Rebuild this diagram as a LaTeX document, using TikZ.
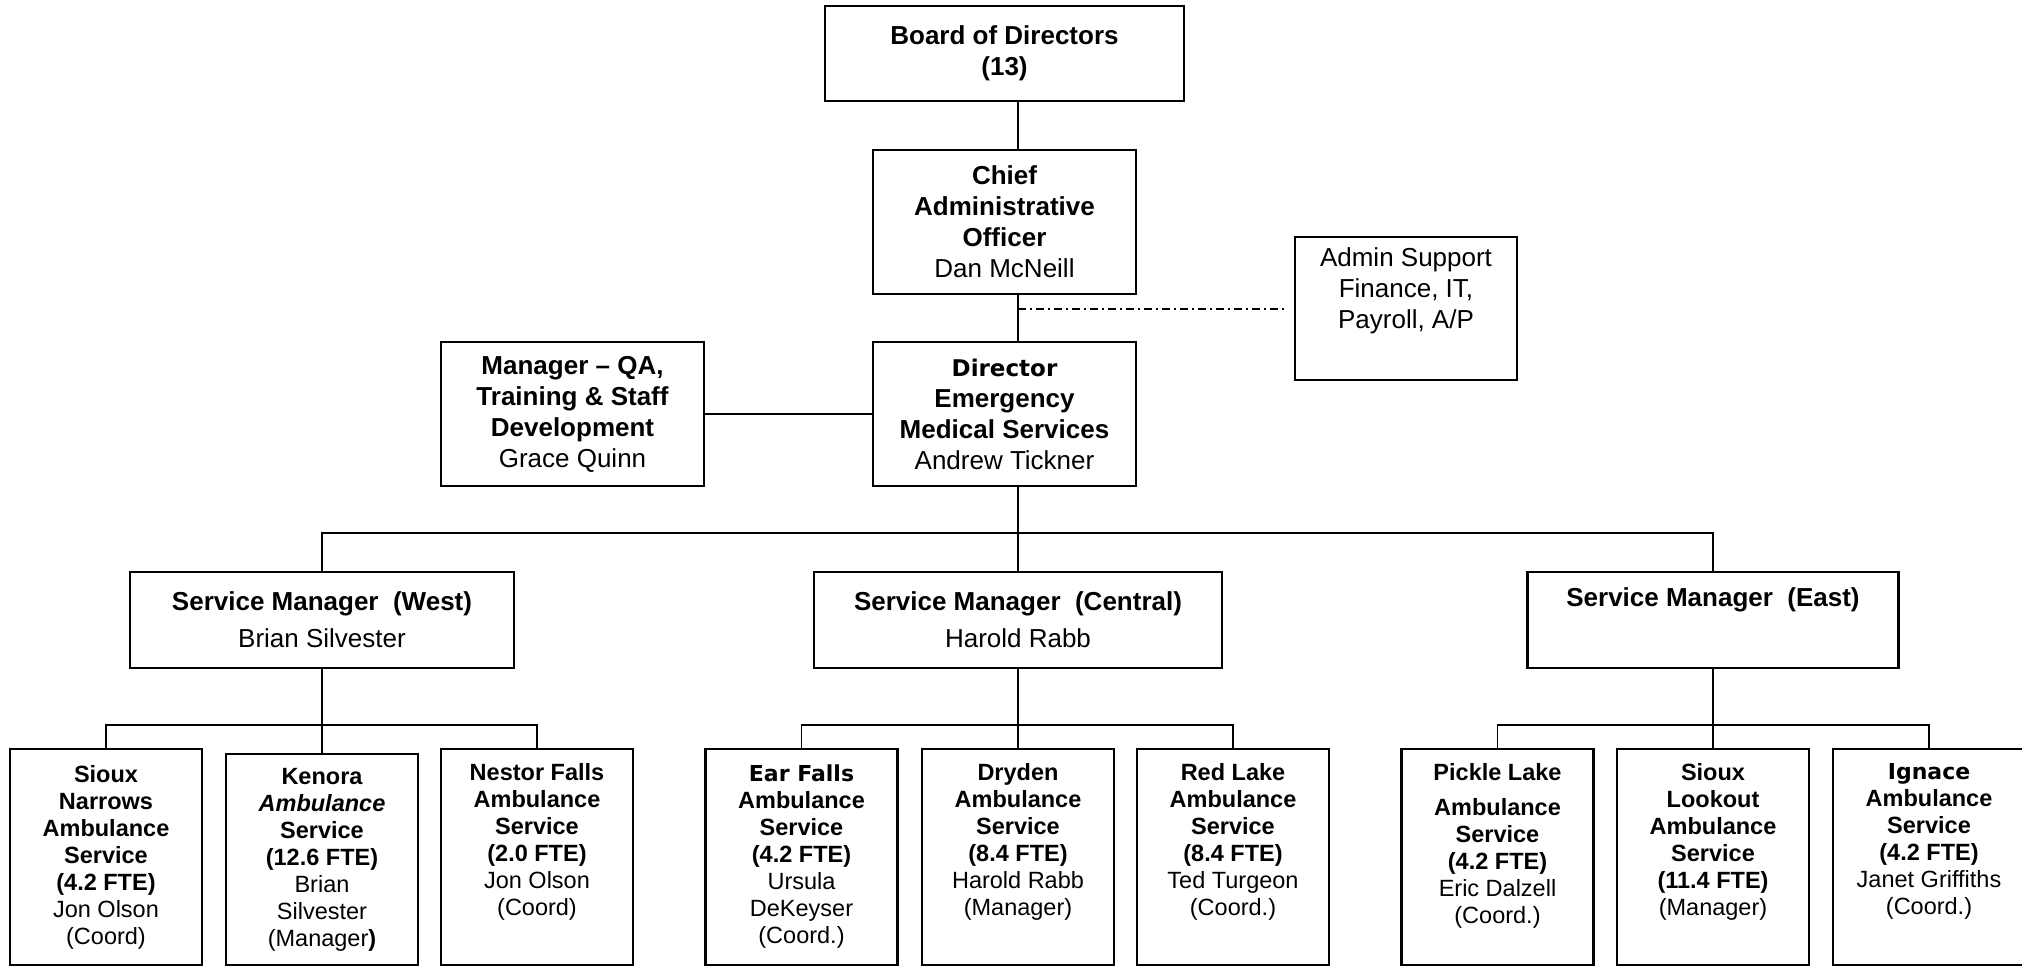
\documentclass[tikz,border=0pt]{standalone}
\usepackage{fontspec}
\setmainfont{Liberation Sans}
\newfontfamily\verdana{DejaVu Sans}

\begin{document}
\begin{tikzpicture}[x=1pt, y=-1pt,
  orgbox/.style={draw, line width=2.4pt, align=center, inner sep=0pt,
    font=\fontsize{26}{31}\selectfont\bfseries},
  unitbox/.style={draw, line width=2.4pt, align=center, inner sep=0pt,
    minimum width=192pt, minimum height=216pt,
    font=\fontsize{23.5}{27}\selectfont\bfseries},
  link/.style={line width=1.6pt},
  dotlink/.style={line width=2pt, dash pattern=on 8pt off 4pt on 2pt off 4pt}]
  \useasboundingbox (0,0) rectangle (2022,966);

  % Board / CAO / Director
  \node[orgbox, minimum width=359pt, minimum height=95pt] (board) at (1004.5,53.5)
    {Board of Directors\\(13)};
  \node[orgbox, minimum width=263pt, minimum height=144pt] (cao) at (1004.5,222)
    {Chief\\Administrative\\Officer\\\textmd{Dan McNeill}};
  \node[orgbox, font=\fontsize{26}{31}\selectfont, minimum width=222pt, minimum height=143pt]
    (admin) at (1406,308.5) {Admin Support\\Finance, IT,\\Payroll, A/P\\\strut};
  \node[orgbox, minimum width=263pt, minimum height=144pt] (qa) at (572.5,414)
    {Manager – QA,\\Training \& Staff\\Development\\\textmd{Grace Quinn}};
  \node[orgbox, minimum width=263pt, minimum height=144pt] (director) at (1004.5,414)
    {{\verdana\fontsize{23}{30}\selectfont Director}\\Emergency\\Medical Services\\\textmd{Andrew Tickner}};

  % Service managers
  \node[orgbox, minimum width=384pt, minimum height=96pt] (west) at (322,620)
    {Service Manager\ \ (West)\\[6pt]\textmd{Brian Silvester}};
  \node[orgbox, minimum width=408pt, minimum height=96pt] (central) at (1018,620)
    {Service Manager\ \ (Central)\\[6pt]\textmd{Harold Rabb}};
  \node[orgbox, minimum width=371pt, minimum height=96pt] (east) at (1713,620)
    {Service Manager\ \ (East)\\[6pt]\strut};

  % West units
  \node[unitbox] (sioux) at (106,857)
    {Sioux\\Narrows\\Ambulance\\Service\\(4.2 FTE)\\\textmd{Jon Olson}\\\textmd{(Coord)}};
  \node[unitbox, minimum height=211pt] (kenora) at (322,859.5)
    {Kenora\\\textit{Ambulance}\\Service\\(12.6 FTE)\\\textmd{Brian}\\\textmd{Silvester}\\\textmd{(Manager}\textbf{)}};
  \node[unitbox] (nestor) at (537,857)
    {Nestor Falls\\Ambulance\\Service\\(2.0 FTE)\\\textmd{Jon Olson}\\\textmd{(Coord)}\\\strut};
  % Central units
  \node[unitbox] (earfalls) at (801.5,857)
    {{\verdana\fontsize{22}{27}\selectfont Ear Falls}\\Ambulance\\Service\\(4.2 FTE)\\\textmd{Ursula}\\\textmd{DeKeyser}\\\textmd{(Coord.)}};
  \node[unitbox] (dryden) at (1018,857)
    {Dryden\\Ambulance\\Service\\(8.4 FTE)\\\textmd{Harold Rabb}\\\textmd{(Manager)}\\\strut};
  \node[unitbox] (redlake) at (1233,857)
    {Red Lake\\Ambulance\\Service\\(8.4 FTE)\\\textmd{Ted Turgeon}\\\textmd{(Coord.)}\\\strut};
  % East units
  \node[unitbox] (pickle) at (1497.5,857)
    {Pickle Lake\\[8pt]Ambulance\\Service\\(4.2 FTE)\\\textmd{Eric Dalzell}\\\textmd{(Coord.)}\\[-8pt]\strut};
  \node[unitbox] (lookout) at (1713,857)
    {Sioux\\Lookout\\Ambulance\\Service\\(11.4 FTE)\\\textmd{(Manager)}\\\strut};
  \node[unitbox] (ignace) at (1929,857)
    {{\verdana\fontsize{22}{27}\selectfont Ignace}\\Ambulance\\Service\\(4.2 FTE)\\\textmd{Janet Griffiths}\\\textmd{(Coord.)}\\\strut};

  % Connectors
  \coordinate (spine) at (1018,0);
  \draw[link] (board.south -| spine) -- (cao.north -| spine);
  \draw[link] (cao.south -| spine) -- (director.north -| spine);
  \draw[dotlink] (spine |- admin.west) -- ([xshift=-8pt]admin.west);
  \draw[link] (qa.east) -- (director.west);
  \draw[link] (director.south -| spine) -- (central.north);
  \draw[link] (west.north) -- ++(0,-38) -| (east.north);

  \draw[link] (west.south) -- (kenora.north);
  \draw[link] (sioux.north) -- ++(0,-23) -| (nestor.north);
  \draw[link] (central.south) -- (dryden.north);
  \draw[link] (earfalls.north) -- ++(0,-23) -| (redlake.north);
  \draw[link] (east.south) -- (lookout.north);
  \draw[link] (pickle.north) -- ++(0,-23) -| (ignace.north);

\end{tikzpicture}
\end{document}
